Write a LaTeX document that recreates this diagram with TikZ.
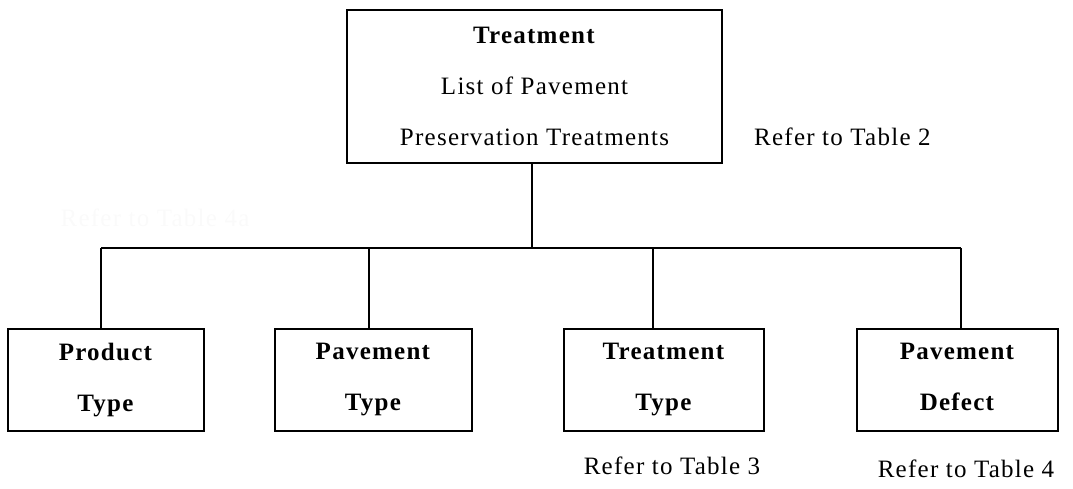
\documentclass[tikz,border=0pt]{standalone}
\usepackage{fontspec}
\setmainfont[LetterSpace=5]{Liberation Serif}
\begin{document}
\begin{tikzpicture}[x=1pt,y=-1pt,
  box/.style={draw,line width=1.4pt,rectangle,inner sep=0pt,align=center,
    font=\fontsize{25}{51}\selectfont},
  conn/.style={line width=1.4pt},
  note/.style={font=\fontsize{25}{28}\selectfont,inner sep=0pt}]
\useasboundingbox (0,0) rectangle (1073,489);
\node[box,minimum width=375pt,minimum height=153pt] (top) at (534.5,86.5)
  {\textbf{Treatment}\\List of Pavement\\Preservation Treatments};
\node[box,minimum width=196pt,minimum height=102pt] (prod) at (106,380)
  {\textbf{Product}\\\textbf{Type}};
\node[box,minimum width=197pt,minimum height=102pt] (pave) at (373.5,380)
  {\textbf{Pavement}\\\textbf{Type}};
\node[box,minimum width=200pt,minimum height=102pt] (ttype) at (664,380)
  {\textbf{Treatment}\\\textbf{Type}};
\node[box,minimum width=201pt,minimum height=102pt] (defect) at (957.5,380)
  {\textbf{Pavement}\\\textbf{Defect}\vphantom{y}};
\coordinate (bus) at (0,248);
\coordinate (pj) at ([xshift=-5pt]prod.north |- bus);
\coordinate (dj) at ([xshift=3.5pt]defect.north |- bus);
\draw[conn] ([xshift=-2.5pt]top.south) -- ([xshift=-2.5pt]top.south |- bus);
\draw[conn] (pj) -- (dj);
\draw[conn] (pj) -- ([xshift=-5pt]prod.north);
\draw[conn] ([xshift=-4.5pt]pave.north |- bus) -- ([xshift=-4.5pt]pave.north);
\draw[conn] ([xshift=-11pt]ttype.north |- bus) -- ([xshift=-11pt]ttype.north);
\draw[conn] (dj) -- ([xshift=3.5pt]defect.north);
\node[note,anchor=west] (r2) at (754,137) {Refer to Table 2};
\node[note] (r3) at (672,466) {Refer to Table 3};
\node[note] (r4) at (966,469) {Refer to Table 4};
\node[note,text=black!2] (r4a) at (155,218) {Refer to Table 4a};
\end{tikzpicture}
\end{document}
